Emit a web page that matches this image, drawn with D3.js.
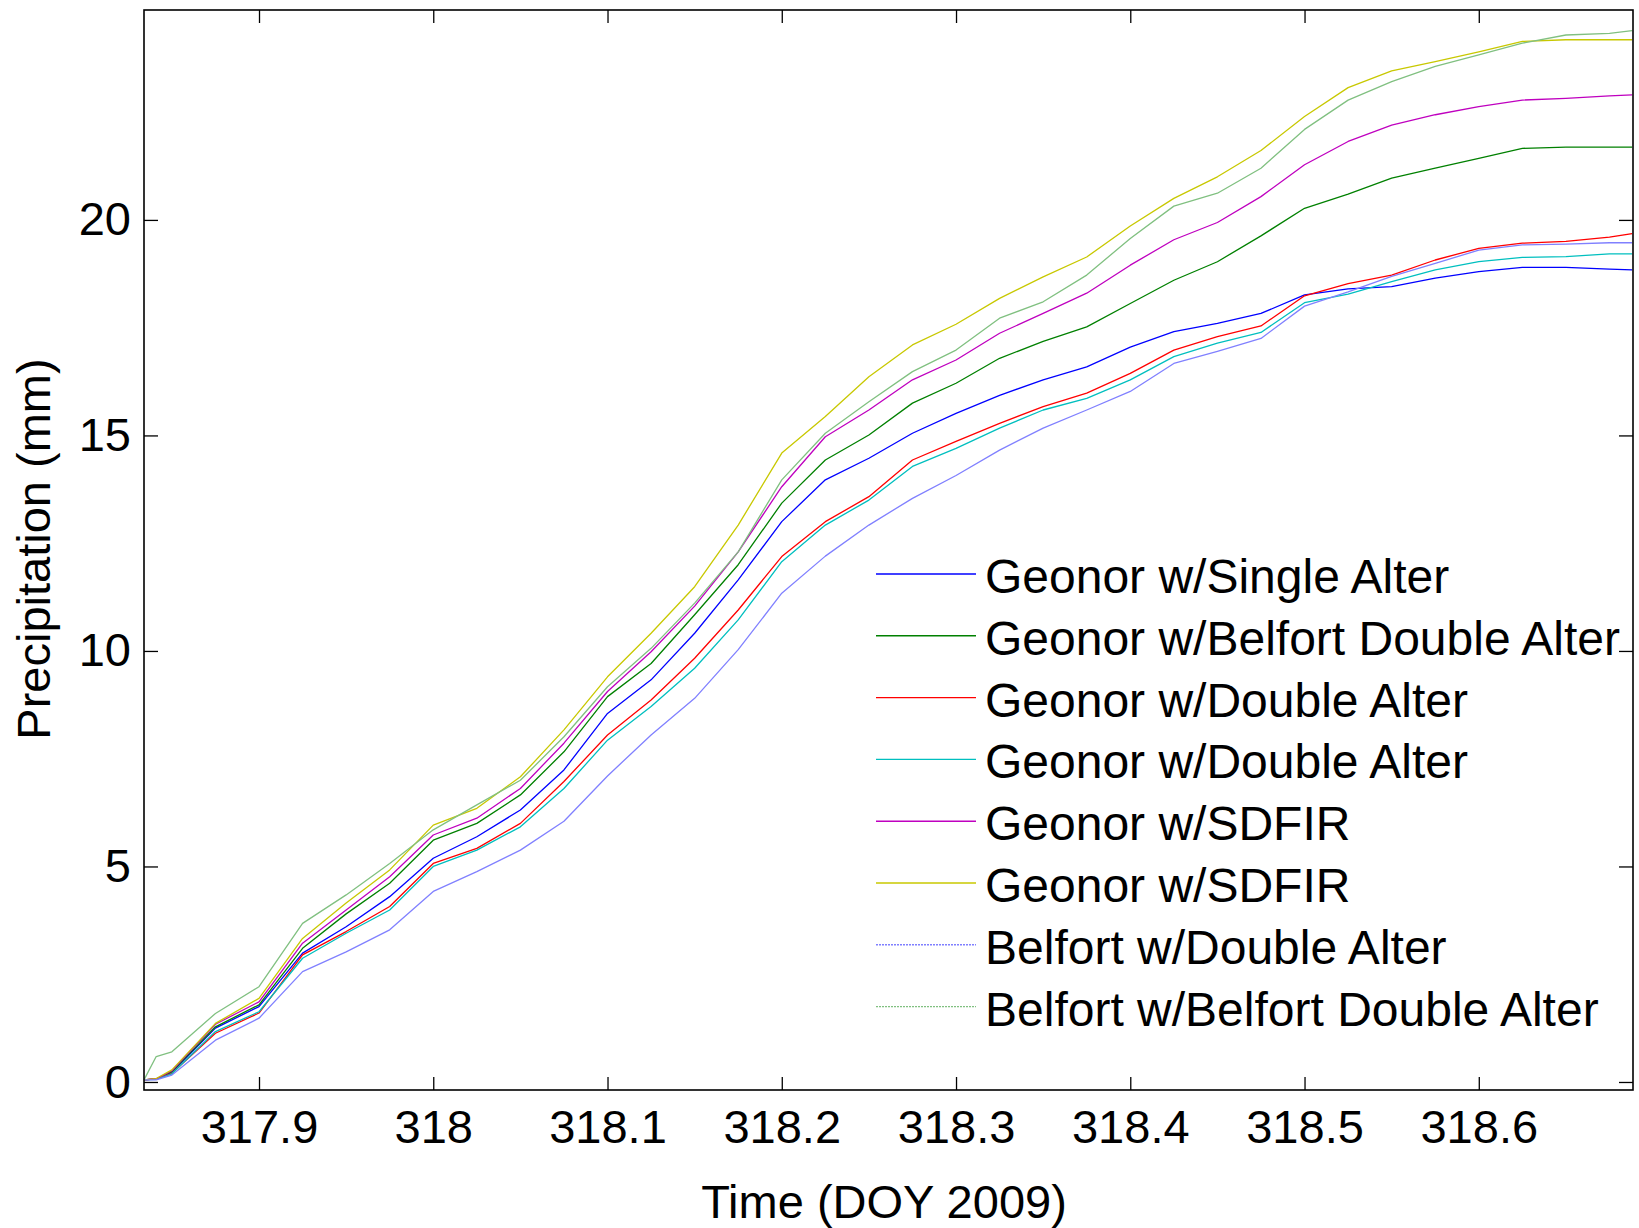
<!DOCTYPE html>
<html>
<head>
<meta charset="utf-8">
<script src="https://cdn.jsdelivr.net/npm/d3@7"></script>
<style>
  body { margin: 0; background: #fff; }
  text { font-family: Arial, "Liberation Sans", sans-serif; fill: #000; }
</style>
</head>
<body>
<svg id="chart" width="1639" height="1228"></svg>
<script>
const doy = [317.834, 317.841, 317.85, 317.875, 317.9, 317.925, 317.95, 317.975, 318.0, 318.025, 318.05, 318.075, 318.1, 318.125, 318.15, 318.175, 318.2, 318.225, 318.25, 318.275, 318.3, 318.325, 318.35, 318.375, 318.4, 318.425, 318.45, 318.475, 318.5, 318.525, 318.55, 318.575, 318.6, 318.625, 318.65, 318.675, 318.688]

const geonorSingle = [0.05, 0.07, 0.22, 1.25, 1.75, 2.99, 3.60, 4.30, 5.19, 5.69, 6.31, 7.24, 8.55, 9.33, 10.41, 11.65, 13.0, 13.97, 14.47, 15.05, 15.51, 15.93, 16.29, 16.59, 17.05, 17.41, 17.6, 17.83, 18.26, 18.40, 18.45, 18.65, 18.80, 18.90, 18.90, 18.86, 18.84]
const geonorBelfortDfir = [0.05, 0.07, 0.24, 1.28, 1.79, 3.10, 3.90, 4.61, 5.61, 6.0, 6.66, 7.66, 8.94, 9.71, 10.84, 12.0, 13.43, 14.43, 15.01, 15.75, 16.21, 16.79, 17.18, 17.52, 18.06, 18.6, 19.03, 19.63, 20.27, 20.6, 20.97, 21.2, 21.43, 21.66, 21.69, 21.69, 21.69]
const geonorDouble1 = [0.05, 0.07, 0.2, 1.13, 1.60, 2.95, 3.49, 4.07, 5.07, 5.42, 6.0, 6.97, 8.05, 8.86, 9.83, 10.95, 12.19, 13.0, 13.58, 14.43, 14.86, 15.28, 15.67, 15.98, 16.44, 16.98, 17.29, 17.54, 18.24, 18.52, 18.72, 19.07, 19.34, 19.46, 19.50, 19.60, 19.68]
const geonorDouble2 = [0.05, 0.06, 0.19, 1.17, 1.63, 2.87, 3.45, 3.99, 5.0, 5.38, 5.92, 6.81, 7.93, 8.71, 9.6, 10.72, 12.07, 12.92, 13.50, 14.28, 14.70, 15.17, 15.59, 15.86, 16.29, 16.83, 17.14, 17.39, 18.08, 18.28, 18.57, 18.84, 19.03, 19.13, 19.15, 19.21, 19.21]
const geonorSdfir1 = [0.05, 0.07, 0.26, 1.34, 1.86, 3.22, 3.99, 4.76, 5.73, 6.12, 6.81, 7.86, 9.06, 9.98, 11.04, 12.3, 13.81, 14.97, 15.59, 16.29, 16.75, 17.37, 17.83, 18.30, 18.95, 19.54, 19.94, 20.54, 21.28, 21.82, 22.2, 22.44, 22.63, 22.78, 22.82, 22.88, 22.90]
const geonorSdfir2 = [0.05, 0.08, 0.28, 1.36, 1.94, 3.33, 4.15, 4.92, 5.96, 6.35, 7.08, 8.17, 9.40, 10.41, 11.49, 12.92, 14.59, 15.44, 16.36, 17.1, 17.58, 18.18, 18.68, 19.14, 19.86, 20.5, 21.0, 21.61, 22.4, 23.07, 23.46, 23.67, 23.9, 24.14, 24.18, 24.18, 24.18]
const belfortDouble = [0.05, 0.05, 0.16, 0.97, 1.48, 2.56, 3.02, 3.53, 4.42, 4.88, 5.38, 6.05, 7.10, 8.05, 8.90, 10.03, 11.34, 12.2, 12.92, 13.54, 14.07, 14.66, 15.17, 15.59, 16.02, 16.67, 16.95, 17.25, 18.0, 18.33, 18.69, 18.99, 19.30, 19.42, 19.44, 19.47, 19.47]
const belfortBelfortDfir = [0.05, 0.59, 0.70, 1.59, 2.21, 3.68, 4.34, 5.07, 5.85, 6.43, 7.0, 8.01, 9.17, 10.06, 11.11, 12.30, 13.97, 15.05, 15.78, 16.48, 16.98, 17.72, 18.1, 18.72, 19.57, 20.32, 20.62, 21.2, 22.1, 22.78, 23.21, 23.56, 23.83, 24.1, 24.29, 24.33, 24.39]

const seriesNames = ["Geonor w/Single Alter", "Geonor w/Belfort Double Alter", "Geonor w/Double Alter", "Geonor w/Double Alter", "Geonor w/SDFIR", "Geonor w/SDFIR", "Belfort w/Double Alter", "Belfort w/Belfort Double Alter"]
const seriesValues = [geonorSingle, geonorBelfortDfir, geonorDouble1, geonorDouble2, geonorSdfir1, geonorSdfir2, belfortDouble, belfortBelfortDfir]
const seriesColors = ["#0000ff", "#008000", "#ff0000", "#00bfbf", "#bf00bf", "#c8c800", "#8080ff", "#80c080"]
const seriesDash = [null, null, null, null, null, null, "2,1", "2,1"]

const xTicks = [317.9, 318, 318.1, 318.2, 318.3, 318.4, 318.5, 318.6]
const yTicks = [0, 5, 10, 15, 20]

const box = { left: 144, right: 1633, top: 10, bottom: 1090 }

const xScale = d3.scaleLinear().domain([317.834, 318.6885]).range([box.left, box.right])
const yScale = d3.scaleLinear().domain([-0.186, 24.87]).range([box.bottom, box.top])

const svg = d3.select("#chart")

const styleAxis = (g, fontSize) => {
  g.select(".domain").remove()
  g.selectAll(".tick line").attr("stroke", "#000").attr("stroke-width", 1.3)
  g.selectAll(".tick text").style("font-size", `${fontSize}px`).attr("fill", "#000")
  g.attr("font-family", null)
}

svg.append("g")
  .attr("transform", `translate(0,${box.bottom})`)
  .call(d3.axisBottom(xScale).tickValues(xTicks).tickFormat(d3.format("")).tickSizeInner(-13).tickSizeOuter(0).tickPadding(20))
  .call(g => styleAxis(g, 47))

svg.append("g")
  .attr("transform", `translate(0,${box.top})`)
  .call(d3.axisTop(xScale).tickValues(xTicks).tickFormat("").tickSizeInner(-13).tickSizeOuter(0))
  .call(g => styleAxis(g, 47))

svg.append("g")
  .attr("transform", `translate(${box.left},0)`)
  .call(d3.axisLeft(yScale).tickValues(yTicks).tickFormat(d3.format("")).tickSizeInner(-14).tickSizeOuter(0).tickPadding(13))
  .call(g => styleAxis(g, 47))

svg.append("g")
  .attr("transform", `translate(${box.right},0)`)
  .call(d3.axisRight(yScale).tickValues(yTicks).tickFormat("").tickSizeInner(-14).tickSizeOuter(0))
  .call(g => styleAxis(g, 47))

const line = d3.line()
  .x((d, i) => xScale(doy[i]))
  .y(d => yScale(d))

svg.append("g")
  .selectAll("path")
  .data(seriesValues)
  .enter()
  .append("path")
  .attr("d", d => line(d))
  .attr("fill", "none")
  .attr("stroke", (d, i) => seriesColors[i])
  .attr("stroke-width", 1.3)
  .attr("stroke-linejoin", "round")

svg.append("rect")
  .attr("x", box.left)
  .attr("y", box.top)
  .attr("width", box.right - box.left)
  .attr("height", box.bottom - box.top)
  .attr("fill", "none")
  .attr("stroke", "#000")
  .attr("stroke-width", 1.6)

const legend = svg.append("g")
  .selectAll("g")
  .data(seriesNames)
  .enter()
  .append("g")
  .attr("transform", (d, i) => `translate(876,${574 + i * 61.8})`)

legend.append("line")
  .attr("x1", 0)
  .attr("x2", 100)
  .attr("stroke", (d, i) => seriesColors[i])
  .attr("stroke-width", 1.4)
  .attr("stroke-dasharray", (d, i) => seriesDash[i])

legend.append("text")
  .attr("x", 109)
  .attr("y", 19)
  .style("font-size", "48px")
  .text(d => d)

svg.append("text")
  .attr("x", 884)
  .attr("y", 1218)
  .attr("text-anchor", "middle")
  .style("font-size", "47px")
  .text("Time (DOY 2009)")

svg.append("text")
  .attr("transform", "translate(50,549) rotate(-90)")
  .attr("text-anchor", "middle")
  .style("font-size", "47px")
  .text("Precipitation (mm)")
</script>
</body>
</html>
